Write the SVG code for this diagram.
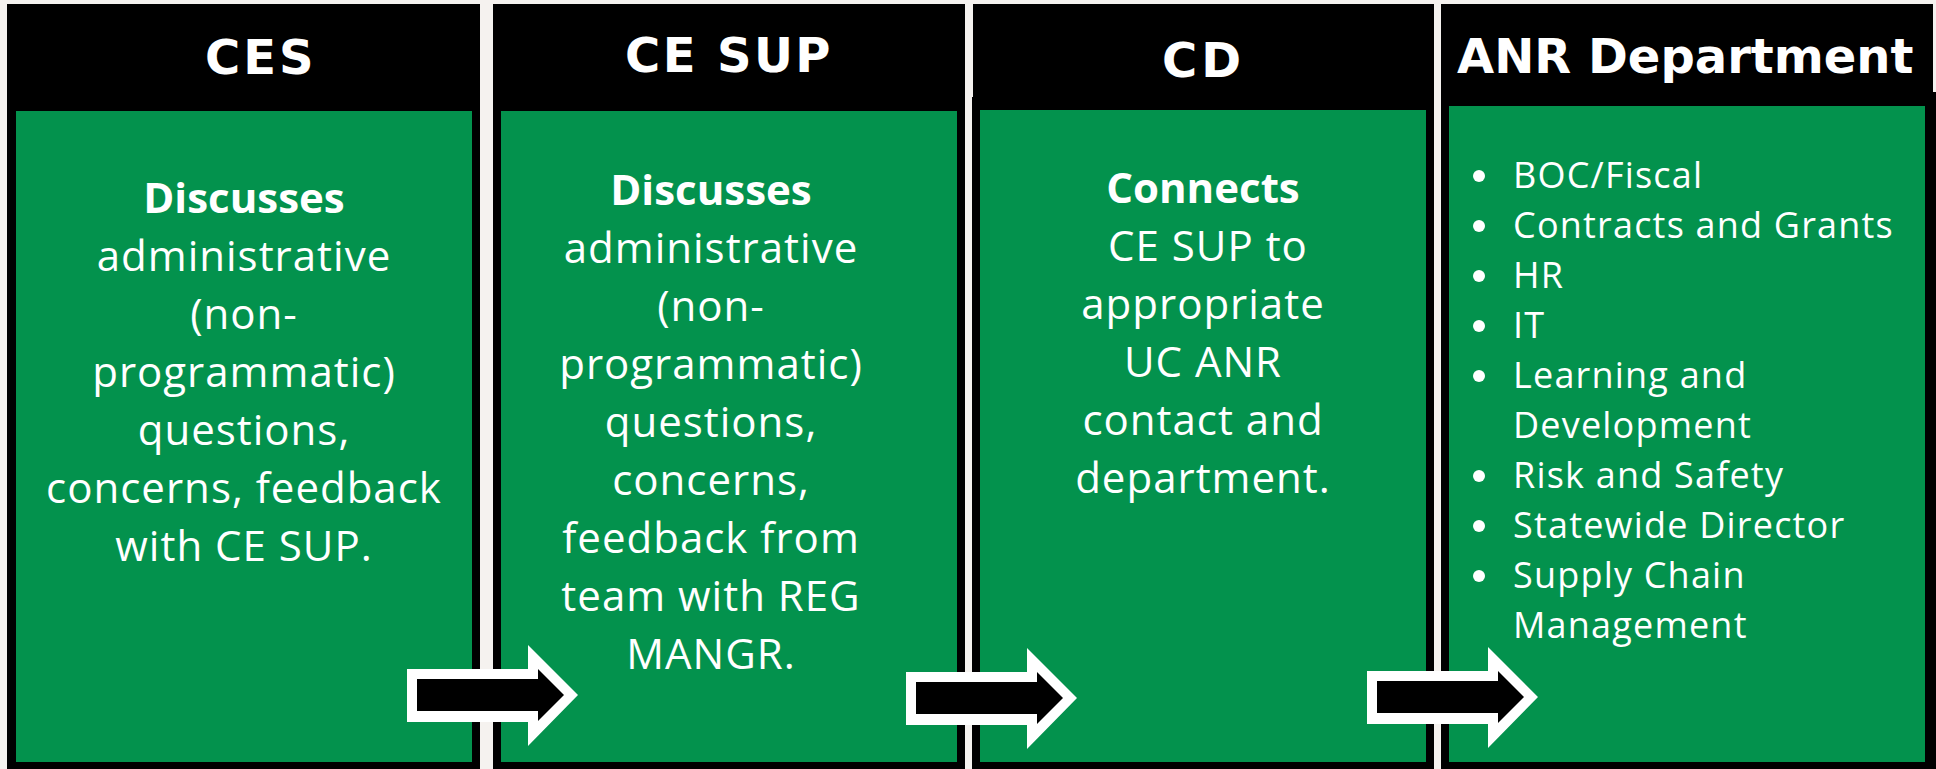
<svg xmlns="http://www.w3.org/2000/svg" width="1936" height="769" viewBox="0 0 1936 769">
  <style>
    .frame { fill: #000000; }
    .panel { fill: #03924d; }
    .head { font-family: "DejaVu Sans", "Liberation Sans", sans-serif; font-weight: bold; font-size: 48px; fill: #ffffff; }
    .body { font-family: "Open Sans", "Noto Sans", sans-serif; font-size: 42px; fill: #ffffff; letter-spacing: 1px; text-anchor: middle; }
    .b { font-weight: bold; letter-spacing: 0; }
    .list { font-family: "Open Sans", "Noto Sans", sans-serif; font-size: 36px; fill: #ffffff; letter-spacing: 1.2px; }
    .dot { fill: #ffffff; }
    .arrow-out { fill: #ffffff; }
    .arrow-in { fill: #000000; }
  </style>
  <defs>
    <g id="flow-arrow">
      <path class="arrow-out" d="M0,-26 H121 V-50 L171,0 L121,51 V27 H0 Z"/>
      <path class="arrow-in" d="M10,-16 H131 V-26 L157,0 L131,26 V16 H10 Z"/>
    </g>
  </defs>

  <rect x="0" y="0" width="1936" height="769" fill="#f5f2ef"/>

  <!-- Column 1: CES -->
  <g id="node-ces">
    <rect class="frame" x="7" y="4" width="473" height="765"/>
    <rect class="panel" x="16" y="111" width="456" height="651"/>
    <text class="head" x="205" y="74" letter-spacing="3">CES</text>
    <text class="body b" x="244" y="213">Discusses</text>
    <text class="body" x="244" y="271">administrative</text>
    <text class="body" x="244" y="329">(non-</text>
    <text class="body" x="244" y="387">programmatic)</text>
    <text class="body" x="244" y="445">questions,</text>
    <text class="body" x="244" y="503">concerns, feedback</text>
    <text class="body" x="244" y="561">with CE SUP.</text>
  </g>

  <!-- Column 2: CE SUP -->
  <g id="node-ce-sup">
    <rect class="frame" x="493" y="4" width="472" height="765"/>
    <rect class="panel" x="501" y="111" width="456" height="651"/>
    <text class="head" x="625" y="72" letter-spacing="2.4">CE SUP</text>
    <text class="body b" x="711" y="205">Discusses</text>
    <text class="body" x="711" y="263">administrative</text>
    <text class="body" x="711" y="321">(non-</text>
    <text class="body" x="711" y="379">programmatic)</text>
    <text class="body" x="711" y="437">questions,</text>
    <text class="body" x="711" y="495">concerns,</text>
    <text class="body" x="711" y="553">feedback from</text>
    <text class="body" x="711" y="611">team with REG</text>
    <text class="body" x="711" y="669">MANGR.</text>
  </g>

  <!-- Column 3: CD -->
  <g id="node-cd">
    <rect class="frame" x="973" y="4" width="461" height="765"/>
    <rect class="frame" x="972" y="97" width="2" height="672"/>
    <rect class="panel" x="980" y="110" width="446" height="652"/>
    <text class="head" x="1162" y="77" letter-spacing="4">CD</text>
    <text class="body b" x="1203" y="203">Connects</text>
    <text class="body" x="1208" y="261">CE SUP to</text>
    <text class="body" x="1203" y="319">appropriate</text>
    <text class="body" x="1203" y="377">UC ANR</text>
    <text class="body" x="1203" y="435">contact and</text>
    <text class="body" x="1203" y="493">department.</text>
  </g>

  <!-- Column 4: ANR Department -->
  <g id="node-anr-department">
    <rect class="frame" x="1441" y="4" width="492" height="765"/>
    <rect class="frame" x="1933" y="92" width="3" height="677"/>
    <rect class="panel" x="1449" y="106" width="476" height="656"/>
    <text class="head" x="1457" y="73">ANR Department</text>
    <g>
      <circle class="dot" cx="1479" cy="176" r="6"/>
      <circle class="dot" cx="1479" cy="226" r="6"/>
      <circle class="dot" cx="1479" cy="276" r="6"/>
      <circle class="dot" cx="1479" cy="326" r="6"/>
      <circle class="dot" cx="1479" cy="376" r="6"/>
      <circle class="dot" cx="1479" cy="476" r="6"/>
      <circle class="dot" cx="1479" cy="526" r="6"/>
      <circle class="dot" cx="1479" cy="576" r="6"/>
    </g>
    <text class="list" x="1513" y="188">BOC/Fiscal</text>
    <text class="list" x="1513" y="238">Contracts and Grants</text>
    <text class="list" x="1513" y="288">HR</text>
    <text class="list" x="1513" y="338">IT</text>
    <text class="list" x="1513" y="388">Learning and</text>
    <text class="list" x="1513" y="438">Development</text>
    <text class="list" x="1513" y="488">Risk and Safety</text>
    <text class="list" x="1513" y="538">Statewide Director</text>
    <text class="list" x="1513" y="588">Supply Chain</text>
    <text class="list" x="1513" y="638">Management</text>
  </g>

  <!-- Flow arrows between columns -->
  <g id="connectors">
    <use href="#flow-arrow" transform="translate(407,695)"/>
    <use href="#flow-arrow" transform="translate(906,698)"/>
    <use href="#flow-arrow" transform="translate(1367,697)"/>
  </g>
</svg>
